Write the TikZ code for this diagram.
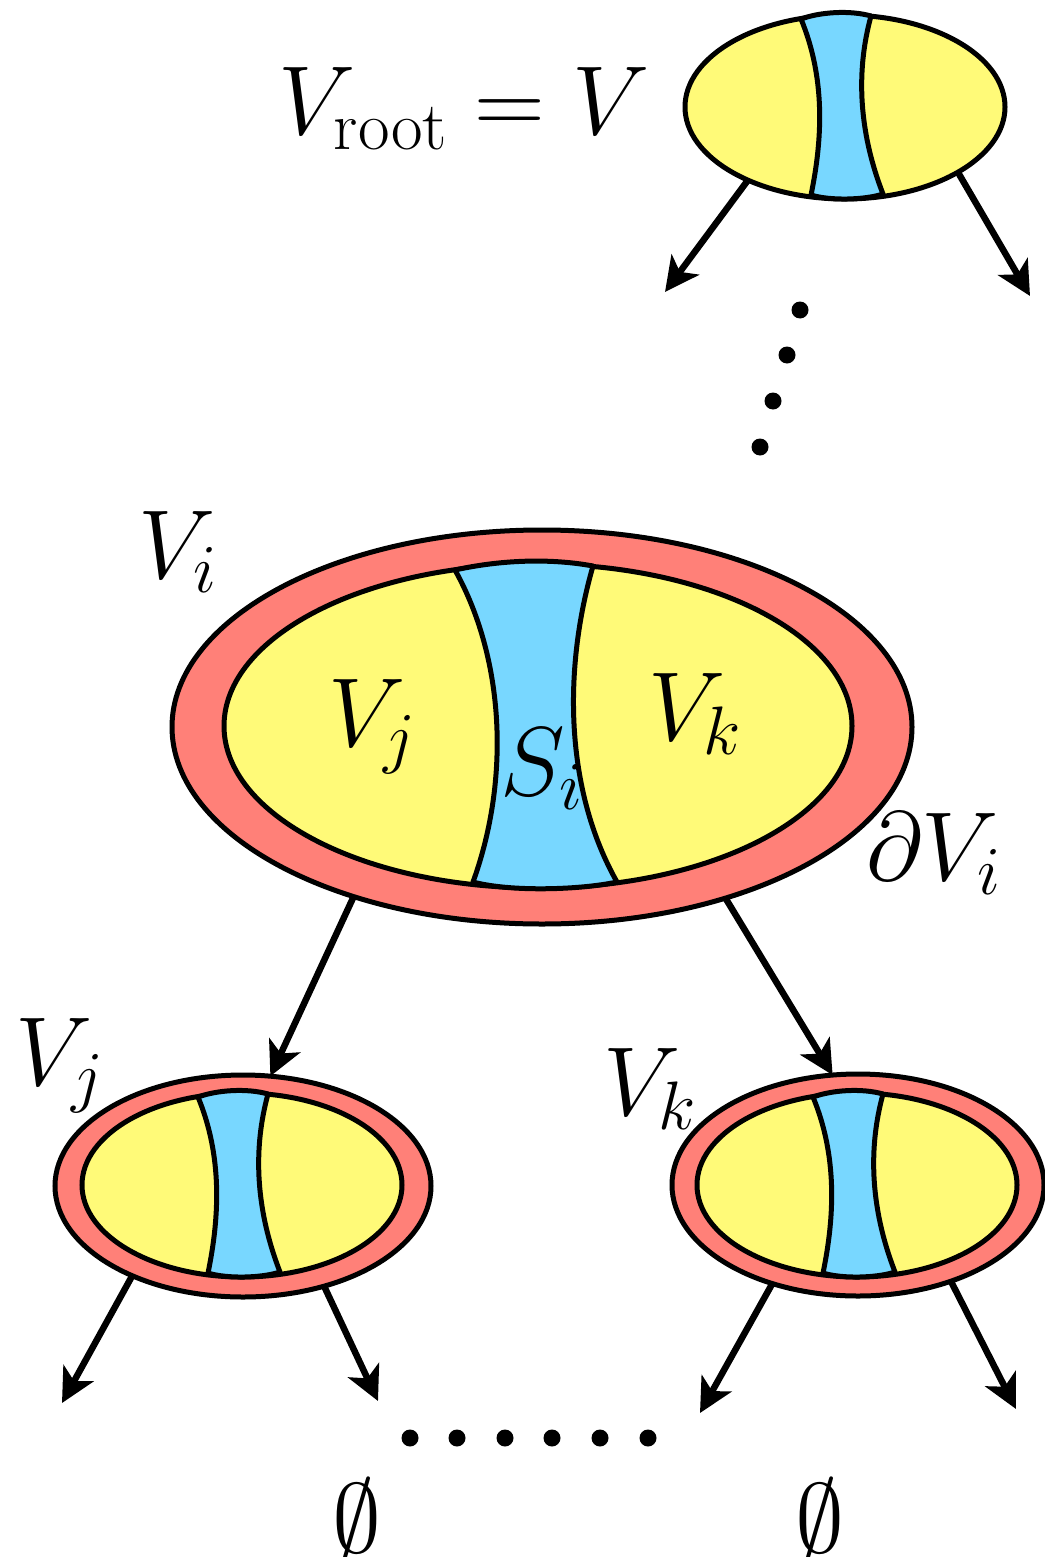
\documentclass[tikz,border=0pt]{standalone}
\usepackage{fix-cm}
\usetikzlibrary{arrows.meta,shapes.geometric}
\definecolor{cyel}{RGB}{255,250,120}
\definecolor{cblue}{RGB}{120,215,255}
\definecolor{cred}{RGB}{255,128,120}
\tikzset{
  band/.pic={
    \draw[line width=5pt, fill=cblue, line join=round]
      (-44,-88) .. controls (-25,-95) and (5,-97) .. (26,-91)
      .. controls (12,-40) and (12,20) .. (38,87)
      .. controls (20,93) and (-15,94) .. (-34,88)
      .. controls (-22,30) and (-20,-30) .. cycle;
  },
  ring/.style={ellipse, draw, line width=5pt, fill=cred, inner sep=0pt, outer sep=0pt},
  cellbox/.style={ellipse, draw, line width=5pt, fill=cyel, inner sep=0pt, outer sep=0pt},
  link/.style={line width=6.5pt, -{Stealth[length=34pt,width=34pt,inset=9pt]}},
  lbl/.style={anchor=base west, inner sep=0pt, outer sep=0pt, font=\fontsize{98}{110}\selectfont},
  dotmark/.style={circle, fill=black, inner sep=0pt, minimum size=17pt}
}
\begin{document}
\begin{tikzpicture}[x=1pt, y=-1pt]
\useasboundingbox (0,0) rectangle (1044,1557);

% root
\node[cellbox, minimum width=320pt, minimum height=184pt] (root) at (845,107) {};
\pic at (root.center) {band};
\node[lbl] (rootlbl) at (278,135) {$V_{\mathrm{root}}=V$};
\coordinate (r1) at (665,292);
\coordinate (r2) at (1030,296);
\draw[link] (root.217) -- (r1);
\draw[link] (root.330) -- (r2);

% vertical dots
\node[dotmark] (d1) at (800,310) {};
\node[dotmark] (d2) at (787,355) {};
\node[dotmark] (d3) at (773,401) {};
\node[dotmark] (d4) at (760,447) {};

% big Vi
\node[ring, minimum width=740pt, minimum height=394pt] (Vi) at (542,727) {};
\node[cellbox, minimum width=628pt, minimum height=324pt] (Vii) at (538,726) {};
\draw[line width=5pt, fill=cblue, line join=round]
  (455,570) .. controls (500,560) and (550,558) .. (593,566)
  .. controls (563,670) and (565,790) .. (617,882)
  .. controls (580,890) and (510,892) .. (473,882)
  .. controls (510,780) and (505,660) .. cycle;
\node[lbl] (lVi) at (138,578) {$V_i$};
\node[lbl] (lVj) at (328,746) {$V_j$};
\node[lbl] (lSi) at (500,795) {$S_i$};
\node[lbl] (lVk) at (648,740) {$V_k$};
\node[lbl] (ldVi) at (866,880) {$\partial V_i$};

% lower left Vj
\node[ring, minimum width=376pt, minimum height=222pt] (Vj) at (243,1186) {};
\node[cellbox, minimum width=320pt, minimum height=184pt] (Vjj) at (242,1185) {};
\pic at (Vjj.center) {band};
\node[lbl] (lVj2) at (16,1085) {$V_j$};

% lower right Vk
\node[ring, minimum width=372pt, minimum height=222pt] (Vk) at (858,1185) {};
\node[cellbox, minimum width=320pt, minimum height=184pt] (Vkk) at (857,1185) {};
\pic at (Vkk.center) {band};
\node[lbl] (lVk2) at (603,1115) {$V_k$};

% arrows from Vi
\draw[link] (Vi.222) -- (Vj.76);
\draw[link] (Vi.317) -- (Vk.103);

% arrows from Vj, Vk
\coordinate (j1) at (62,1403);
\coordinate (j2) at (378,1401);
\coordinate (k1) at (700,1413);
\coordinate (k2) at (1016,1409);
\draw[link] (Vj.219) -- (j1);
\draw[link] (Vj.309) -- (j2);
\draw[link] (Vk.229) -- (k1);
\draw[link] (Vk.314) -- (k2);

% horizontal dots
\foreach \i/\x in {1/410,2/457,3/505,4/552,5/600,6/648} {
  \node[dotmark] (h\i) at (\x,1438) {};
}

% empty sets
\node[lbl, anchor=base] (e1) at (357,1552) {$\emptyset$};
\node[lbl, anchor=base] (e2) at (820,1552) {$\emptyset$};
\end{tikzpicture}
\end{document}
